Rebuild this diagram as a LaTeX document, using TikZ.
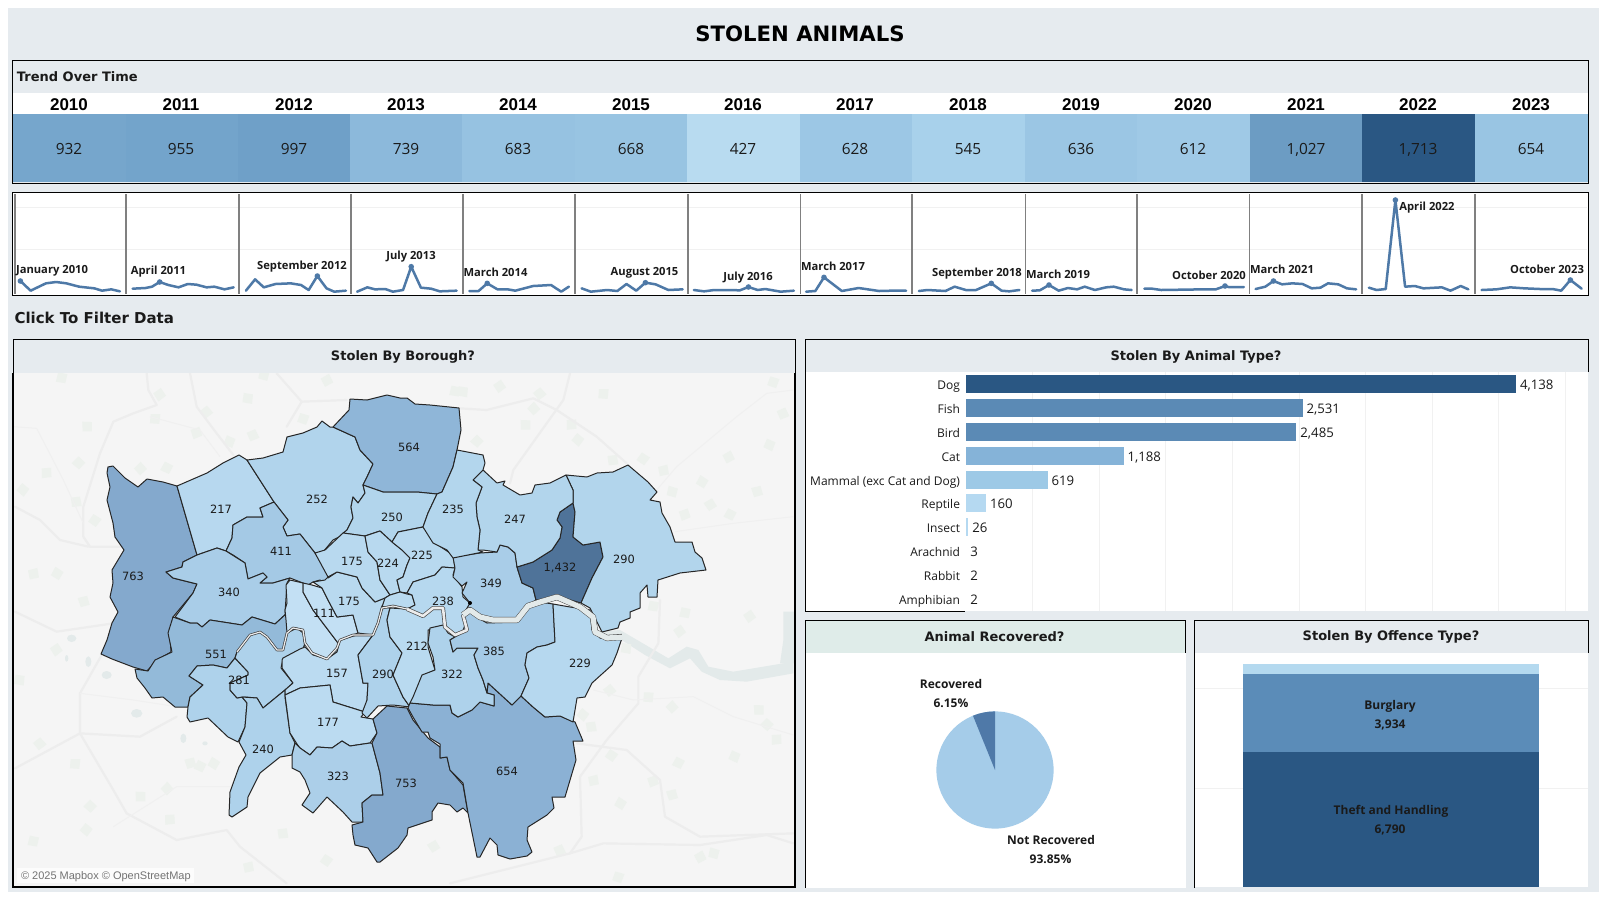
\documentclass[tikz,border=0pt]{standalone}
\usepackage{fontspec}
\setmainfont{DejaVu Sans}
\newfontfamily\osans{Open Sans}
\newfontfamily\lsans{Liberation Sans}
\newcommand{\fsz}[1]{\fontsize{#1}{#1}\selectfont}
\definecolor{bgc}{HTML}{E6EBEF}
\definecolor{navy}{HTML}{2A5783}
\definecolor{sparkc}{HTML}{4E79A7}
\definecolor{gridc}{HTML}{F1F1F1}
\definecolor{mapbg}{HTML}{F5F5F5}
\definecolor{roadc}{HTML}{EDEDED}
\definecolor{greenc}{HTML}{EDF1ED}
\definecolor{waterc}{HTML}{E3EAEA}
\definecolor{txtc}{HTML}{1A1A1A}
\tikzset{
 tx/.style={inner sep=0pt,outer sep=0pt,anchor=center,text=txtc},
 frameline/.style={draw=black,line width=0.5pt},
 bor/.style={draw=black!85,line width=0.5pt,line join=round},
 sp/.style={draw=sparkc,line width=1.25pt,line join=round,line cap=round},
 road/.style={draw=roadc,line width=1.1pt,line join=round,line cap=round},
 thin road/.style={draw=roadc!60!mapbg,line width=0.5pt,line join=round},
 zf/.style 2 args={x=0.166667pt,y=-0.166667pt,xshift=#1*0.5pt,yshift=-#2*0.5pt},
 za/.style={x=0.255102pt,y=-0.166667pt},
 zb/.style={x=0.255102pt,y=-0.166667pt,xshift=400pt},
}
\newcommand{\mapl}[4]{\node[tx,font=\fsz{5.7}] (#1) at (#2,#3) {#4};}
\newcommand{\sparkl}[4]{\node[tx,font=\osans\fsz{5.6}\bfseries] (#1) at (#2,#3) {#4};}
\newcommand{\animbar}[6]{\fill[fill=#4] (966.3,#2) rectangle (#3,#2+18);\node[tx,anchor=base east,font=\osans\fsz{6}] (#1) at (960,#2+14.5) {#5};\node[tx,anchor=base west,font=\osans\fsz{6.6}] (#1v) at (#3+4,#2+14.5) {#6};}
\begin{document}
\begin{tikzpicture}[x=0.5pt,y=-0.5pt]
\useasboundingbox (0,0) rectangle (1599,899);
\fill[white] (0,0) rectangle (1599,899);
\fill[bgc] (8,8) rectangle (1599,892);
\node[tx,font=\fsz{10.6}\bfseries,text=black] (title) at (800,33.5) {STOLEN ANIMALS};
% trend header
\fill[white] (13,93) rectangle (1587.5,114);
\node[tx,anchor=west,font=\fsz{6.5}\bfseries] (trend) at (17,76.5) {Trend Over Time};
\foreach \a/\b/\c in {13/125.5/76A6CC,125.5/238/73A4CB,238/350/6FA0C8,350/462/8CB9DB,462/575/96C2E1,575/687/98C4E2,687/800/B8DBF0,800/912/9CC7E5,912/1024.5/A8D1EB,1024.5/1137/9BC6E4,1137/1249.5/9FC9E6,1249.5/1362/6C9CC3,1362/1475/2A5783,1475/1587.5/99C5E3}{
 \definecolor{tmpc}{HTML}{\c}\fill[tmpc] (\a,114) rectangle (\b,182);}
\foreach \n/\x/\y/\v in {a/69/2010/932,b/181/2011/955,c/294/2012/997,d/406/2013/739,e/518/2014/683,f/631/2015/668,g/743/2016/427,h/855/2017/628,i/968/2018/545,j/1081/2019/636,k/1193/2020/612,l/1306/2021/{1,027},m/1418/2022/{1,713},n/1531/2023/654}{
 \node[tx,font=\lsans\fsz{8.5}\bfseries,text=black] (yr\n) at (\x,104.5) {\y};
 \node[tx,anchor=base,font=\osans\fsz{7.7}] (val\n) at (\x,154.5) {\v};}
\draw[frameline] (12.5,60.5) rectangle (1588,183);
% sparklines
\fill[white] (13,192) rectangle (1588,295);
\draw[gridc,line width=0.5pt] (15,207)--(1587,207) (15,249)--(1587,249);
\foreach \x in {15,126,239,351,463,575,688,800.5,912,1025.5,1137,1249.5,1362,1475}{\draw[gray,line width=0.7pt] (\x,194)--(\x,294);}
\begin{scope}[za]
\draw[sp] plot coordinates {(40,843) (60,872) (90,850) (110,846) (130,850) (155,860) (185,865) (200,872) (218,868) (235,874)};
\draw[sp] plot coordinates {(260,866) (285,864) (298,860) (313,846) (330,855) (350,862) (368,852) (385,854) (405,862) (420,860) (440,868) (458,862)};
\draw[sp] plot coordinates {(482,872) (500,838) (517,862) (540,852) (570,850) (590,855) (605,870) (622,828) (640,865) (655,875) (678,872)};
\draw[sp] plot coordinates {(700,875) (720,862) (735,868) (755,867) (770,875) (790,870) (806,800) (825,863) (845,866) (862,874) (895,872)};
\draw[sp] plot coordinates {(920,873) (938,873) (955,850) (975,868) (995,868) (1010,872) (1045,858) (1080,855) (1100,875) (1115,860)};
\draw[sp] plot coordinates {(1140,865) (1158,875) (1190,870) (1210,873) (1228,852) (1247,872) (1265,848) (1285,853) (1310,870) (1338,868)};
\draw[sp] plot coordinates {(1360,870) (1380,874) (1400,870) (1430,870) (1450,871) (1467,861) (1485,870) (1500,867) (1530,875) (1556,872)};
\foreach \p in {(40,843),(313,846),(622,828),(806,800),(955,850),(1265,848),(1467,861)}{\fill[sparkc] \p circle [radius=1.4pt];}
\end{scope}
\begin{scope}[zb]
\draw[sp] plot coordinates {(12,875) (30,873) (47,832) (82,873) (115,864) (155,873) (180,872) (208,872)};
\draw[sp] plot coordinates {(233,873) (250,870) (285,873) (303,860) (325,870) (345,870) (375,850) (395,872) (410,874) (430,870)};
\draw[sp] plot coordinates {(455,872) (470,871) (488,855) (507,872) (525,864) (543,868) (558,860) (578,870) (600,862) (615,860) (635,868) (650,870)};
\draw[sp] plot coordinates {(675,866) (690,866) (708,870) (750,869) (790,868) (815,868) (833,858) (840,861) (870,861)};
\draw[sp] plot coordinates {(893,867) (912,860) (928,843) (945,853) (965,850) (985,852) (1003,865) (1020,863) (1035,850) (1055,853) (1072,865) (1090,868)};
\draw[sp] plot coordinates {(1115,863) (1130,870) (1148,867) (1167,600) (1186,860) (1205,858) (1222,865) (1258,862) (1275,872) (1295,858) (1310,868)};
\draw[sp] plot coordinates {(1336,870) (1365,868) (1392,862) (1420,865) (1450,867) (1475,867) (1492,872) (1510,840) (1532,866)};
\foreach \p in {(47,832),(375,850),(488,855),(833,858),(928,843),(1167,600),(1510,840)}{\fill[sparkc] \p circle [radius=1.4pt];}
\end{scope}
\sparkl{s10}{52}{271}{January 2010}
\sparkl{s11}{158.5}{272}{April 2011}
\sparkl{s12}{302}{267}{September 2012}
\sparkl{s13}{411}{257}{July 2013}
\sparkl{s14}{495.5}{272}{March 2014}
\sparkl{s15}{644.5}{273}{August 2015}
\sparkl{s16}{748}{278}{July 2016}
\sparkl{s17}{833}{266}{March 2017}
\sparkl{s18}{977}{274}{September 2018}
\sparkl{s19}{1058}{274}{March 2019}
\sparkl{s20}{1209}{275}{October 2020}
\sparkl{s21}{1282}{269}{March 2021}
\sparkl{s22}{1427}{208}{April 2022}
\sparkl{s23}{1547}{269}{October 2023}
\draw[frameline] (12.5,192) rectangle (1588,295);
\node[tx,anchor=west,font=\fsz{7.5}\bfseries] (filter) at (14.5,318) {Click To Filter Data};
% map panel
\begin{scope}
\clip (14,373) rectangle (794,886);
\fill[mapbg] (14,373) rectangle (794,886);
\begin{scope}[zf={400}{600}]
\fill[waterc] (600,95)--(660,90)--(720,125)--(805,175)--(860,140)--(895,150)--(925,200)--(1000,215)--(1180,185)--(1180,220)--(1040,245)--(960,240)--(905,215)--(870,175)--(810,205)--(735,165)--(665,120)--(610,120)--cycle;
\fill[waterc] (1150,35)--(1185,35)--(1185,190)--(1140,190)--(1150,120)--cycle;
\end{scope}
\foreach \fa/\fb/\lst in {
 0/330/{185/145,480/195,745/205,620/245,465/265,420/415,260/290,235/400,140/430,70/480,230/515,285/570,100/730,170/730,250/815,500/415,590/310,690/335,760/315,910/265,980/150,790/135},
 400/330/{165/185,300/170,190/185,420/190,610/190,400/235,375/285,230/335,515/285,535/330,640/390,730/385,790/420,905/455,1070/485,990/555,855/555,1110/345,1150/250,1120/155,985/380,815/485,930/525},
 0/600/{100/725,170/150,60/240,120/430,225/490,500/565,420/590,270/620,510/660,260/690,850/700,980/780,745/800,640/490,570/490,600/500},
 400/600/{855/40,1050/50,680/145,630/270,745/290,815/320,1075/330,1100/375,1130/420,550/345,575/380,635/465,580/540,660/610,815/585,835/490,760/545,1005/470,480/750,655/830,900/770,940/760,100/740,760/20,840/95}}{
 \begin{scope}[zf={\fa}{\fb}]
 \foreach \px/\py [count=\i] in \lst {
  \begin{scope}[shift={(\px,\py)},rotate=\i*47,xscale=0.8]
  \fill[greenc] (-24,-6)--(8,-20)--(26,4)--(-4,18)--cycle;
  \end{scope}}
 \end{scope}}
\begin{scope}[zf={0}{600}]
\foreach \px/\py/\rx/\ry in {215/115/28/22,265/185/18/32,320/225/30/24,410/340/34/26,550/415/18/28,615/430/16/12,200/175/10/20}{
 \fill[waterc] (\px,\py) ellipse [x radius=\rx*0.083333pt,y radius=\ry*0.083333pt];}
\end{scope}
\begin{scope}[zf={0}{330}]
\draw[road] (440,130)--(445,180)--(470,225)--(400,250)--(340,275)--(300,370)--(250,530)--(250,620)--(270,650)--(360,650);
\draw[road] (570,130)--(590,230)--(650,310)--(700,375);
\draw[road] (830,130)--(905,215)--(1040,210);
\draw[road] (905,215)--(860,290);
\draw[road] (45,530)--(120,570)--(180,630)--(265,650);
\draw[thin road] (40,290)--(110,295)--(190,450)--(250,580);
\draw[thin road] (450,260)--(600,300)--(660,380);
\end{scope}
\begin{scope}[zf={400}{330}]
\draw[road] (510,130)--(490,210)--(340,420)--(330,460);
\draw[road] (180,235)--(260,240)--(400,205)--(470,240)--(590,320)--(680,400);
\draw[thin road] (770,480)--(830,410)--(1010,260)--(1100,190)--(1180,180);
\draw[thin road] (825,605)--(1000,580)--(1180,560);
\end{scope}
\begin{scope}[zf={0}{600}]
\draw[road] (45,35)--(170,95)--(340,70);
\draw[road] (305,165)--(240,280)--(240,400)--(340,570)--(380,640)--(530,720)--(680,690)--(720,740)--(860,850);
\draw[road] (45,505)--(240,400)--(420,410)--(530,350);
\draw[thin road] (240,280)--(400,300)--(530,320);
\draw[thin road] (340,680)--(530,560)--(700,560);
\end{scope}
\begin{scope}[zf={400}{600}]
\draw[road] (780,0)--(775,130)--(715,230)--(715,310)--(620,420)--(540,530)--(545,710)--(510,760)--(150,850);
\draw[road] (530,430)--(680,450)--(780,540)--(795,650)--(900,710)--(1180,700);
\draw[road] (510,760)--(610,730)--(900,735)--(1100,705)--(1180,730);
\draw[thin road] (580,270)--(700,300)--(880,290)--(1000,350)--(1180,405);
\end{scope}
% boroughs
\definecolor{m1}{HTML}{84A9CD}\definecolor{m2}{HTML}{B7D8EF}\definecolor{m3}{HTML}{B1D4EC}\definecolor{m4}{HTML}{8FB6D8}\definecolor{m5}{HTML}{B2D5EC}
\definecolor{m6}{HTML}{B3D6ED}\definecolor{m7}{HTML}{A4C9E5}\definecolor{m8}{HTML}{B8D9EF}\definecolor{m9}{HTML}{A9CDE8}\definecolor{m10}{HTML}{4F7399}
\definecolor{m11}{HTML}{93BAD9}\definecolor{m12}{HTML}{AED2EB}\definecolor{m13}{HTML}{BBDBF1}\definecolor{m14}{HTML}{ACCFE9}\definecolor{m15}{HTML}{8BB1D4}
\definecolor{m16}{HTML}{B6D8EF}\definecolor{m17}{HTML}{A5CAE6}\definecolor{m18}{HTML}{B9DAF0}\definecolor{m19}{HTML}{C3E0F4}
\draw[bor,fill=m1] plot coordinates {(108,467) (113,466) (125,478) (138,487) (147,479) (163,482) (177,486) (197,555) (183,562) (182,567) (166,572) (173,578) (197,584) (193,593) (173,617) (170,637) (171,652) (157,660) (147,671) (133,667) (112,659) (101,654) (107,640) (112,623) (118,612) (110,597) (113,583) (112,570) (124,550) (115,537) (113,523) (107,500) (110,487) (107,473)} -- cycle;
\draw[bor,fill=m2] plot coordinates {(177,486) (207,473) (223,463) (239,455) (247,460) (274,502) (260,508) (263,517) (247,517) (233,525) (232,538) (226,551) (217,548) (197,555)} -- cycle;
\draw[bor,fill=m3] plot coordinates {(247,460) (263,458) (283,452) (287,437) (303,433) (317,427) (322,421) (330,427) (333,427) (355,437) (360,450) (373,464) (367,477) (363,485) (365,493) (358,503) (353,497) (351,507) (353,518) (347,530) (343,535) (333,540) (323,552) (315,553) (300,534) (287,536) (283,527) (288,520) (274,502)} -- cycle;
\draw[bor,fill=m4] plot coordinates {(333,427) (349,410) (350,399) (367,400) (387,395) (400,398) (407,398) (415,404) (430,405) (459,408) (461,430) (457,450) (453,467) (442,492) (437,494) (417,492) (400,492) (383,492) (363,485) (367,477) (373,464) (360,450) (355,437)} -- cycle;
\draw[bor,fill=m5] plot coordinates {(363,485) (383,492) (417,492) (437,494) (428,513) (423,527) (398,532) (392,542) (380,531) (365,536) (343,533) (347,530) (353,518) (351,507) (353,497) (358,503) (365,493)} -- cycle;
\draw[bor,fill=m7] plot coordinates {(274,502) (288,520) (283,527) (287,536) (300,534) (315,553) (330,576) (325,583) (320,580) (313,582) (308,585) (290,578) (273,583) (260,583) (267,577) (263,573) (248,579) (245,563) (233,555) (226,551) (232,538) (233,525) (247,517) (263,517) (260,508)} -- cycle;
\draw[bor,fill=m9] plot coordinates {(197,555) (217,548) (226,551) (245,563) (248,579) (263,573) (267,577) (260,583) (273,583) (290,578) (287,583) (285,613) (287,613) (275,624) (252,617) (242,625) (210,620) (202,627) (197,623) (190,623) (175,617) (193,593) (197,584) (173,578) (166,572) (182,567) (183,562)} -- cycle;
\draw[bor,fill=m11] plot coordinates {(173,617) (190,623) (197,623) (202,627) (210,620) (242,625) (252,617) (275,624) (287,613) (291,620) (291,629) (287,633) (283,650) (277,650) (267,637) (260,632) (250,635) (237,652) (235,658) (227,668) (213,665) (197,666) (189,676) (203,685) (190,697) (188,707) (175,707) (163,697) (152,698) (145,688) (137,678) (135,669) (148,671) (155,660) (172,652) (168,633)} -- cycle;
\draw[bor,fill=m12] plot coordinates {(235,658) (248,672) (248,675) (230,683) (230,690) (237,698) (242,697) (247,703) (245,727) (238,742) (228,737) (208,718) (190,722) (187,717) (188,707) (190,697) (203,685) (189,676) (197,666) (213,665) (227,668)} -- cycle;
\draw[bor,fill=m12] plot coordinates {(235,658) (237,652) (250,635) (260,632) (267,637) (277,650) (283,650) (287,633) (293,628) (303,630) (305,643) (303,649) (300,658) (283,659) (281,668) (293,683) (285,690) (263,708) (257,698) (245,697) (242,697) (237,698) (230,690) (230,683) (248,675) (248,672)} -- cycle;
\draw[bor,fill=m12] plot coordinates {(242,697) (257,698) (263,708) (285,690) (285,697) (290,733) (295,743) (292,755) (280,757) (260,773) (248,797) (247,807) (232,817) (229,815) (230,792) (239,767) (246,755) (239,742) (245,727) (247,703)} -- cycle;
\draw[bor,fill=m19] plot coordinates {(286,585) (290,580) (303,583) (303,592) (313,610) (338,643) (340,640) (337,652) (327,659) (313,655) (305,647) (303,633) (297,628) (287,633) (286,620) (285,610) (287,603)} -- cycle;
\draw[bor,fill=m19] plot coordinates {(303,583) (312,585) (322,588) (328,600) (337,617) (353,615) (358,633) (340,640) (338,643) (313,610) (303,592)} -- cycle;
\draw[bor,fill=m8] plot coordinates {(328,578) (337,572) (357,577) (362,588) (375,602) (385,598) (387,605) (382,606) (378,623) (373,635) (358,633) (353,615) (337,617) (328,600) (322,588) (313,582) (325,580) (330,575)} -- cycle;
\draw[bor,fill=m8] plot coordinates {(315,553) (325,550) (343,533) (365,536) (368,552) (377,562) (380,580) (390,595) (385,598) (375,602) (362,588) (357,577) (337,572) (328,577)} -- cycle;
\draw[bor,fill=m8] plot coordinates {(365,536) (380,531) (392,542) (402,550) (410,558) (407,565) (403,577) (397,580) (400,592) (390,595) (380,580) (377,562) (368,552)} -- cycle;
\draw[bor,fill=m8] plot coordinates {(392,542) (398,532) (423,527) (435,543) (453,555) (455,568) (442,567) (435,575) (413,582) (407,593) (400,592) (397,580) (403,577) (407,565) (410,558) (402,550)} -- cycle;
\draw[bor,fill=m18] plot coordinates {(385,598) (390,595) (400,592) (407,594) (412,595) (415,605) (408,609) (393,606) (382,607)} -- cycle;
\draw[bor,fill=m16] plot coordinates {(407,593) (413,582) (435,575) (442,567) (455,568) (453,575) (462,587) (463,597) (470,603) (473,608) (468,609) (463,615) (467,630) (455,635) (445,627) (443,608) (433,608) (423,616) (407,609) (415,605) (412,595)} -- cycle;
\draw[bor,fill=m9] plot coordinates {(453,557) (480,553) (497,552) (500,545) (508,547) (515,553) (517,567) (522,583) (533,588) (536,600) (528,605) (520,620) (493,620) (480,617) (470,610) (463,615) (470,603) (462,593) (467,582) (462,586) (453,577) (455,568)} -- cycle;
\draw[bor,fill=m10] plot coordinates {(573,503) (575,512) (573,537) (583,545) (600,542) (603,557) (592,578) (581,603) (560,597) (536,600) (533,588) (522,583) (517,567) (533,562) (552,550) (560,538) (562,527) (557,520) (560,512)} -- cycle;
\draw[bor,fill=m5] plot coordinates {(566,475) (587,477) (597,473) (613,472) (628,465) (648,482) (657,492) (650,500) (660,502) (662,513) (670,527) (675,542) (692,542) (695,552) (702,558) (706,570) (680,573) (658,580) (657,597) (648,597) (647,585) (640,593) (640,608) (630,612) (630,618) (620,622) (618,628) (602,632) (597,622) (590,608) (581,603) (592,578) (603,557) (600,542) (583,545) (573,537) (575,512) (573,503) (573,490)} -- cycle;
\draw[bor,fill=m5] plot coordinates {(483,470) (497,483) (505,481) (503,485) (520,495) (532,493) (535,485) (550,483) (566,475) (573,490) (573,503) (560,512) (557,520) (562,527) (560,538) (552,550) (533,562) (517,567) (515,553) (508,547) (500,545) (497,552) (483,550) (478,550) (480,530) (477,517) (476,503) (482,487) (473,480)} -- cycle;
\draw[bor,fill=m6] plot coordinates {(457,450) (483,455) (485,463) (483,470) (473,480) (482,487) (476,503) (477,517) (480,530) (478,550) (483,552) (453,558) (447,550) (433,543) (423,527) (428,513) (437,494) (442,492) (453,467)} -- cycle;
\draw[bor,fill=m13] plot coordinates {(282,660) (283,658) (300,649) (305,647) (313,655) (327,659) (337,652) (340,640) (357,635) (373,635) (358,655) (363,683) (368,683) (367,700) (365,712) (333,702) (330,685) (300,688) (285,695) (285,690) (293,683) (282,668)} -- cycle;
\draw[bor,fill=m13] plot coordinates {(285,695) (300,688) (330,685) (333,702) (365,712) (361,717) (373,719) (377,733) (370,743) (350,746) (342,741) (332,748) (317,747) (310,755) (300,748) (297,744) (290,733) (287,710)} -- cycle;
\draw[bor,fill=m14] plot coordinates {(295,743) (300,748) (310,755) (317,747) (332,748) (342,741) (350,746) (370,743) (372,743) (380,773) (383,795) (372,795) (362,803) (363,822) (352,822) (343,812) (327,797) (313,813) (302,805) (310,793) (305,780) (300,772) (292,768) (292,755)} -- cycle;
\draw[bor,fill=m12] plot coordinates {(382,607) (390,608) (387,620) (390,637) (402,653) (393,675) (403,697) (410,707) (393,705) (378,706) (367,718) (362,713) (367,700) (368,683) (363,683) (358,655) (373,635) (378,623)} -- cycle;
\draw[bor,fill=m18] plot coordinates {(390,608) (407,609) (423,616) (433,608) (443,608) (445,627) (428,630) (428,647) (435,670) (425,675) (413,702) (410,707) (403,697) (393,675) (402,653) (390,637) (387,620)} -- cycle;
\draw[bor,fill=m1] plot coordinates {(373,719) (387,706) (407,708) (413,720) (428,738) (440,747) (440,758) (447,757) (450,770) (463,785) (468,813) (463,808) (457,812) (450,805) (438,803) (432,812) (432,820) (417,825) (408,828) (407,835) (398,848) (380,862) (377,862) (368,848) (355,845) (353,835) (352,825) (363,822) (362,803) (372,795) (383,795) (380,773) (372,743) (377,733)} -- cycle;
\draw[bor,fill=m15] plot coordinates {(410,703) (433,705) (450,705) (452,713) (458,717) (472,710) (480,702) (494,706) (494,695) (487,693) (488,683) (512,705) (521,696) (533,707) (545,717) (560,716) (575,722) (583,741) (573,741) (576,760) (573,770) (565,797) (552,797) (554,808) (547,815) (528,827) (527,840) (532,852) (527,856) (510,859) (498,855) (497,845) (490,838) (480,857) (477,857) (468,813) (463,783) (450,770) (447,757) (440,758) (440,744) (430,738) (428,732) (422,732) (413,717) (408,708)} -- cycle;
\draw[bor,fill=m12] plot coordinates {(413,697) (422,675) (435,670) (433,657) (428,643) (430,628) (443,625) (448,633) (455,637) (450,640) (453,652) (457,648) (478,648) (474,655) (478,668) (483,680) (487,693) (494,695) (494,706) (480,702) (472,710) (458,717) (452,713) (450,705) (433,705) (410,703)} -- cycle;
\draw[bor,fill=m17] plot coordinates {(455,637) (462,633) (465,625) (462,615) (468,610) (478,618) (487,623) (517,622) (528,605) (540,602) (553,604) (555,642) (547,645) (537,647) (527,653) (525,665) (529,678) (521,696) (512,705) (488,683) (487,693) (483,680) (478,668) (474,655) (478,648) (457,648) (453,652) (450,640)} -- cycle;
\draw[bor,fill=m16] plot coordinates {(553,604) (570,607) (590,610) (592,630) (600,638) (622,638) (617,653) (612,665) (592,683) (585,697) (577,698) (573,722) (560,716) (545,717) (533,707) (521,696) (529,678) (525,665) (527,653) (537,647) (547,645) (555,642)} -- cycle;
% Thames
\draw[black!75,line width=1.3pt,line join=round] (237,652)--(250,635)--(260,632)--(267,637)--(277,650)--(283,650)--(287,633)--(293,628)--(303,630)--(305,643)--(312,653)--(327,659)--(337,648)--(340,640)--(353,635)--(373,635)--(378,623)--(382,608)--(393,606)--(407,609);
\draw[white!85!gray,line width=0.6pt,line join=round] (237,652)--(250,635)--(260,632)--(267,637)--(277,650)--(283,650)--(287,633)--(293,628)--(303,630)--(305,643)--(312,653)--(327,659)--(337,648)--(340,640)--(353,635)--(373,635)--(378,623)--(382,608)--(393,606)--(407,609);
\draw[black!70,line width=2pt,line join=round] (407,609)--(423,616)--(433,608)--(443,608)--(445,627)--(455,635)--(467,630)--(463,615);
\draw[white!85!gray,line width=1.3pt,line join=round] (407,609)--(423,616)--(433,608)--(443,608)--(445,627)--(455,635)--(467,630)--(463,615);
\draw[black!70,line width=3.1pt,line join=round] (463,615)--(470,610)--(480,617)--(493,620)--(517,620)--(528,606)--(540,602)--(557,597)--(580,607)--(593,617)--(595,632)--(607,638)--(622,637);
\draw[waterc,line width=2.6pt,line join=round] (463,615)--(470,610)--(480,617)--(493,620)--(517,620)--(528,606)--(540,602)--(557,597)--(580,607)--(593,617)--(595,632)--(607,638)--(625,637);
\fill[black] (470,603) circle [radius=1pt];
% map labels
\mapl{l564}{409}{447.5}{564}\mapl{l217}{221}{509}{217}\mapl{l252}{317}{499}{252}\mapl{l250}{392}{517}{250}
\mapl{l235}{453}{509}{235}\mapl{l247}{515}{519}{247}\mapl{l411}{281}{551}{411}\mapl{l175a}{352}{561}{175}
\mapl{l224}{388}{563}{224}\mapl{l225}{422}{555}{225}\mapl{l290a}{624}{559}{290}\node[tx,anchor=base,font=\fsz{5.7}] (l1432) at (560,571) {1,432};
\mapl{l763}{133}{576}{763}\mapl{l340}{229}{592}{340}\mapl{l349}{491}{583}{349}\mapl{l175b}{349}{601}{175}
\mapl{l238}{443}{601}{238}\mapl{l111}{324}{613}{111}\mapl{l551}{216}{654}{551}\mapl{l281}{239}{680}{281}
\mapl{l157}{337}{673}{157}\mapl{l290b}{383}{674}{290}\mapl{l212}{417}{646}{212}\mapl{l385}{494}{651}{385}
\mapl{l322}{452}{674}{322}\mapl{l229}{580}{663}{229}\mapl{l177}{328}{722}{177}\mapl{l240}{263}{749}{240}
\mapl{l323}{338}{776}{323}\mapl{l753}{406}{783}{753}\mapl{l654}{507}{771}{654}
\fill[white,opacity=0.7] (17,868) rectangle (194,883);
\node[tx,anchor=west,text=black!55,font=\lsans\fsz{5.5}] (credit) at (21,876.5) {© 2025 Mapbox © OpenStreetMap};
\end{scope}
\fill[bgc] (13,339.5) rectangle (795,372.5);
\node[tx,font=\fsz{6.5}\bfseries] (mapt) at (403,356.5) {Stolen By Borough?};
\draw[frameline] (13,372.5)--(13,339.5)--(795,339.5)--(795,372.5);
\draw[black,line width=0.9pt] (13,372.5)--(13,887)--(795,887)--(795,372.5);
% animal panel
\fill[white] (805,372) rectangle (1588,611);
\fill[bgc] (805,339.5) rectangle (1588,372);
\foreach \x in {1032.7,1099,1165.8,1232,1299,1365,1432,1498.5,1565}{\draw[gridc,line width=0.5pt] (\x,372)--(\x,611);}
\node[tx,font=\fsz{6.5}\bfseries] (anit) at (1196,356.5) {Stolen By Animal Type?};
\definecolor{b1}{HTML}{2A5783}\definecolor{b2}{HTML}{5B8AB5}\definecolor{b3}{HTML}{5B8AB5}\definecolor{b4}{HTML}{85B3D8}\definecolor{b5}{HTML}{9DC9E6}\definecolor{b6}{HTML}{B5D9F1}
\animbar{dog}{375}{1516}{b1}{Dog}{4,138}
\animbar{fish}{399}{1302.5}{b2}{Fish}{2,531}
\animbar{bird}{423}{1296.4}{b3}{Bird}{2,485}
\animbar{cat}{447}{1123.5}{b4}{Cat}{1,188}
\animbar{mam}{471}{1047.5}{b5}{Mammal (exc Cat and Dog)}{619}
\animbar{rep}{494}{986}{b6}{Reptile}{160}
\animbar{ins}{518}{968.4}{b6}{Insect}{26}
\animbar{ara}{542}{966.3}{white}{Arachnid}{3}
\animbar{rab}{566}{966.3}{white}{Rabbit}{2}
\animbar{amp}{590}{966.3}{white}{Amphibian}{2}
\draw[frameline] (1588,372)--(1588,339.5)--(805,339.5)--(805,611.5)--(965,611.5);
% recovered panel
\fill[white] (805,652.5) rectangle (1186,888);
\definecolor{hdg}{HTML}{DFECE9}
\fill[hdg] (805,620) rectangle (1185,652.5);
\node[tx,font=\fsz{6.5}\bfseries] (rect) at (994.5,636.5) {Animal Recovered?};
\draw[frameline] (805,888)--(805,620.5)--(1185,620.5)--(1185,652.5);
\definecolor{piea}{HTML}{A5CCE9}\definecolor{pieb}{HTML}{4F79A8}
\coordinate (pc) at (995,770);
\fill[piea] (pc) circle [radius=29.3pt];
\fill[pieb] (pc) -- ++(90:29.3pt) arc [start angle=90,end angle=112.1,radius=29.3pt] -- cycle;
\node[tx,font=\osans\fsz{6}\bfseries] (rec1) at (951,684) {Recovered};
\node[tx,font=\osans\fsz{6}\bfseries] (rec2) at (951,703) {6.15\%};
\node[tx,font=\osans\fsz{6}\bfseries] (nrec1) at (1051,840) {Not Recovered};
\node[tx,font=\osans\fsz{6}\bfseries] (nrec2) at (1050.5,859) {93.85\%};
% offence panel
\fill[white] (1194,652.5) rectangle (1588,887);
\fill[bgc] (1194,620) rectangle (1588,652.5);
\draw[gridc,line width=0.5pt] (1194,688)--(1588,688) (1194,788)--(1588,788);
\node[tx,font=\fsz{6.5}\bfseries] (offt) at (1391,636.5) {Stolen By Offence Type?};
\draw[frameline] (1194,888)--(1194,620.5)--(1588,620.5)--(1588,652.5);
\definecolor{o1}{HTML}{B4D9EF}\definecolor{o2}{HTML}{5B8CB8}
\fill[o1] (1243.4,664) rectangle (1538.8,674);
\fill[o2] (1243.4,674) rectangle (1538.8,752);
\fill[navy] (1243.4,752) rectangle (1538.8,887);
\node[tx,font=\osans\fsz{6}\bfseries] (o21) at (1390,706) {Burglary};
\node[tx,font=\osans\fsz{6}\bfseries] (o22) at (1390,724.5) {3,934};
\node[tx,font=\osans\fsz{6}\bfseries] (o31) at (1391,811) {Theft and Handling};
\node[tx,font=\osans\fsz{6}\bfseries] (o32) at (1390,829.5) {6,790};
\end{tikzpicture}
\end{document}
